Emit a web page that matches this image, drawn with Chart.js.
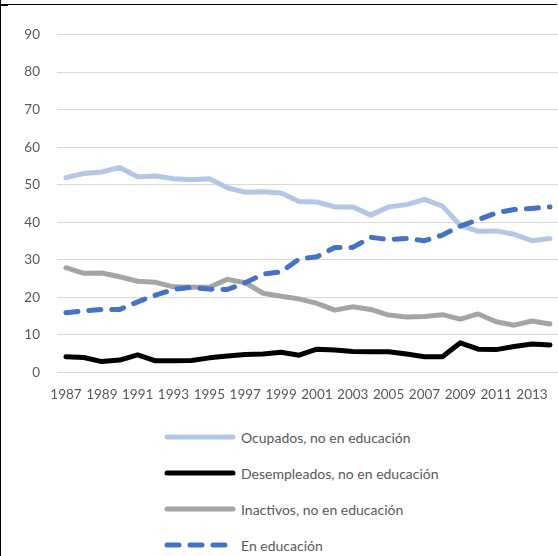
<!DOCTYPE html>
<html>
<head>
<meta charset="utf-8">
<script src="https://cdn.jsdelivr.net/npm/chart.js@4.4.1/dist/chart.umd.min.js"></script>
<style>
  html, body { margin: 0; padding: 0; background: #fff; overflow: hidden; width: 558px; height: 556px; }
  #wrap { position: absolute; left: 0; top: 0; width: 564px; height: 410px; }
  #frameTop { position: absolute; left: 0; top: 4px; width: 557px; height: 1px; background: #000; }
  #frameTopMark { position: absolute; left: 0; top: 4px; width: 8px; height: 2px; background: #000; }
  #frameLeft { position: absolute; left: 0; top: 0; width: 1px; height: 556px; background: #000; }
  #legend { position: absolute; left: 163px; top: 419px; font-family: Lato, "Liberation Sans", sans-serif; font-size: 14px; color: #595959; }
  .item { height: 36px; display: flex; align-items: center; }
  .item svg { width: 74px; height: 10px; margin-right: 4px; }
</style>
</head>
<body>
<div id="wrap"><canvas id="c" width="564" height="410"></canvas></div>
<div id="frameTop"></div>
<div id="frameTopMark"></div>
<div id="frameLeft"></div>
<div id="legend"></div>
<script>
const years = [1987,1988,1989,1990,1991,1992,1993,1994,1995,1996,1997,1998,1999,2000,
               2001,2002,2003,2004,2005,2006,2007,2008,2009,2010,2011,2012,2013,2014];
const yTicks = [0,10,20,30,40,50,60,70,80,90];
const seriesNames = ["Ocupados, no en educación", "Desempleados, no en educación", "Inactivos, no en educación", "En educación"];

const ocupados = [51.9,53.0,53.4,54.6,52.1,52.3,51.6,51.3,51.6,49.2,48.0,48.1,47.8,45.5,
                  45.4,44.1,44.1,41.9,44.1,44.7,46.1,44.3,39.2,37.6,37.7,36.8,35.1,35.7];
const desempleados = [4.2,4.0,2.9,3.3,4.7,3.1,3.1,3.2,3.9,4.4,4.8,4.9,5.4,4.6,
                      6.2,6.0,5.6,5.5,5.5,4.9,4.2,4.2,7.9,6.2,6.1,6.9,7.6,7.3];
const inactivos = [27.9,26.4,26.5,25.5,24.3,24.0,22.8,22.7,22.7,24.8,23.9,21.1,20.3,19.6,
                   18.4,16.6,17.5,16.8,15.3,14.8,14.9,15.4,14.2,15.6,13.5,12.6,13.7,12.9];
const enEducacion = [15.9,16.4,16.8,16.8,18.8,20.6,22.1,22.7,22.2,22.1,23.9,26.2,26.8,30.2,
                     30.8,33.3,33.3,36.0,35.4,35.7,35.1,36.6,39.0,40.7,42.5,43.4,43.7,44.1];

const colors = ["#B4C7E7", "#000000", "#A5A5A5", "#4472C4"];
const dashes = [[], [], [], [12, 11]];
const values = [ocupados, desempleados, inactivos, enEducacion];

const datasets = values.map((v, i) => ({
  label: seriesNames[i],
  data: v,
  borderColor: colors[i],
  backgroundColor: colors[i],
  borderWidth: 5,
  borderDash: dashes[i],
  borderCapStyle: 'round',
  borderJoinStyle: 'round',
  pointRadius: 0,
  tension: 0,
  fill: false,
  order: 3 - i
}));

const tickFont = { family: 'Lato, "Liberation Sans", sans-serif', size: 13.5 };

new Chart(document.getElementById('c'), {
  type: 'line',
  data: { labels: years.map(String), datasets },
  options: {
    responsive: false,
    animation: false,
    devicePixelRatio: 1,
    layout: { padding: { top: 34.5, right: 3, left: 0, bottom: 0 } },
    plugins: { legend: { display: false }, tooltip: { enabled: false } },
    scales: {
      x: {
        type: 'category',
        offset: true,
        grid: { display: false, drawTicks: false },
        border: { display: false },
        afterFit: (s) => { s.height = 37.5; },
        ticks: {
          autoSkip: false,
          maxRotation: 0,
          minRotation: 0,
          padding: 14,
          color: '#595959',
          font: tickFont,
          callback: function(val, idx) { return idx % 2 === 0 ? this.getLabelForValue(val) : ''; }
        }
      },
      y: {
        min: 0,
        max: 90,
        afterBuildTicks: (s) => { s.ticks = yTicks.map(v => ({ value: v })); },
        afterFit: (s) => { s.width = 57; },
        grid: { color: '#D9D9D9', lineWidth: 1, drawTicks: false },
        border: { display: false },
        ticks: { padding: 17, color: '#595959', font: tickFont }
      }
    }
  }
});

const legend = document.getElementById('legend');
seriesNames.forEach((name, i) => {
  const row = document.createElement('div');
  row.className = 'item';
  const dash = dashes[i].length ? `stroke-dasharray="${dashes[i].join(' ')}"` : '';
  row.innerHTML = `<svg viewBox="0 0 74 10"><line x1="4" y1="5" x2="70" y2="5" stroke="${colors[i]}" stroke-width="5" stroke-linecap="round" ${dash}/></svg><span>${name}</span>`;
  legend.appendChild(row);
});
</script>
</body>
</html>
